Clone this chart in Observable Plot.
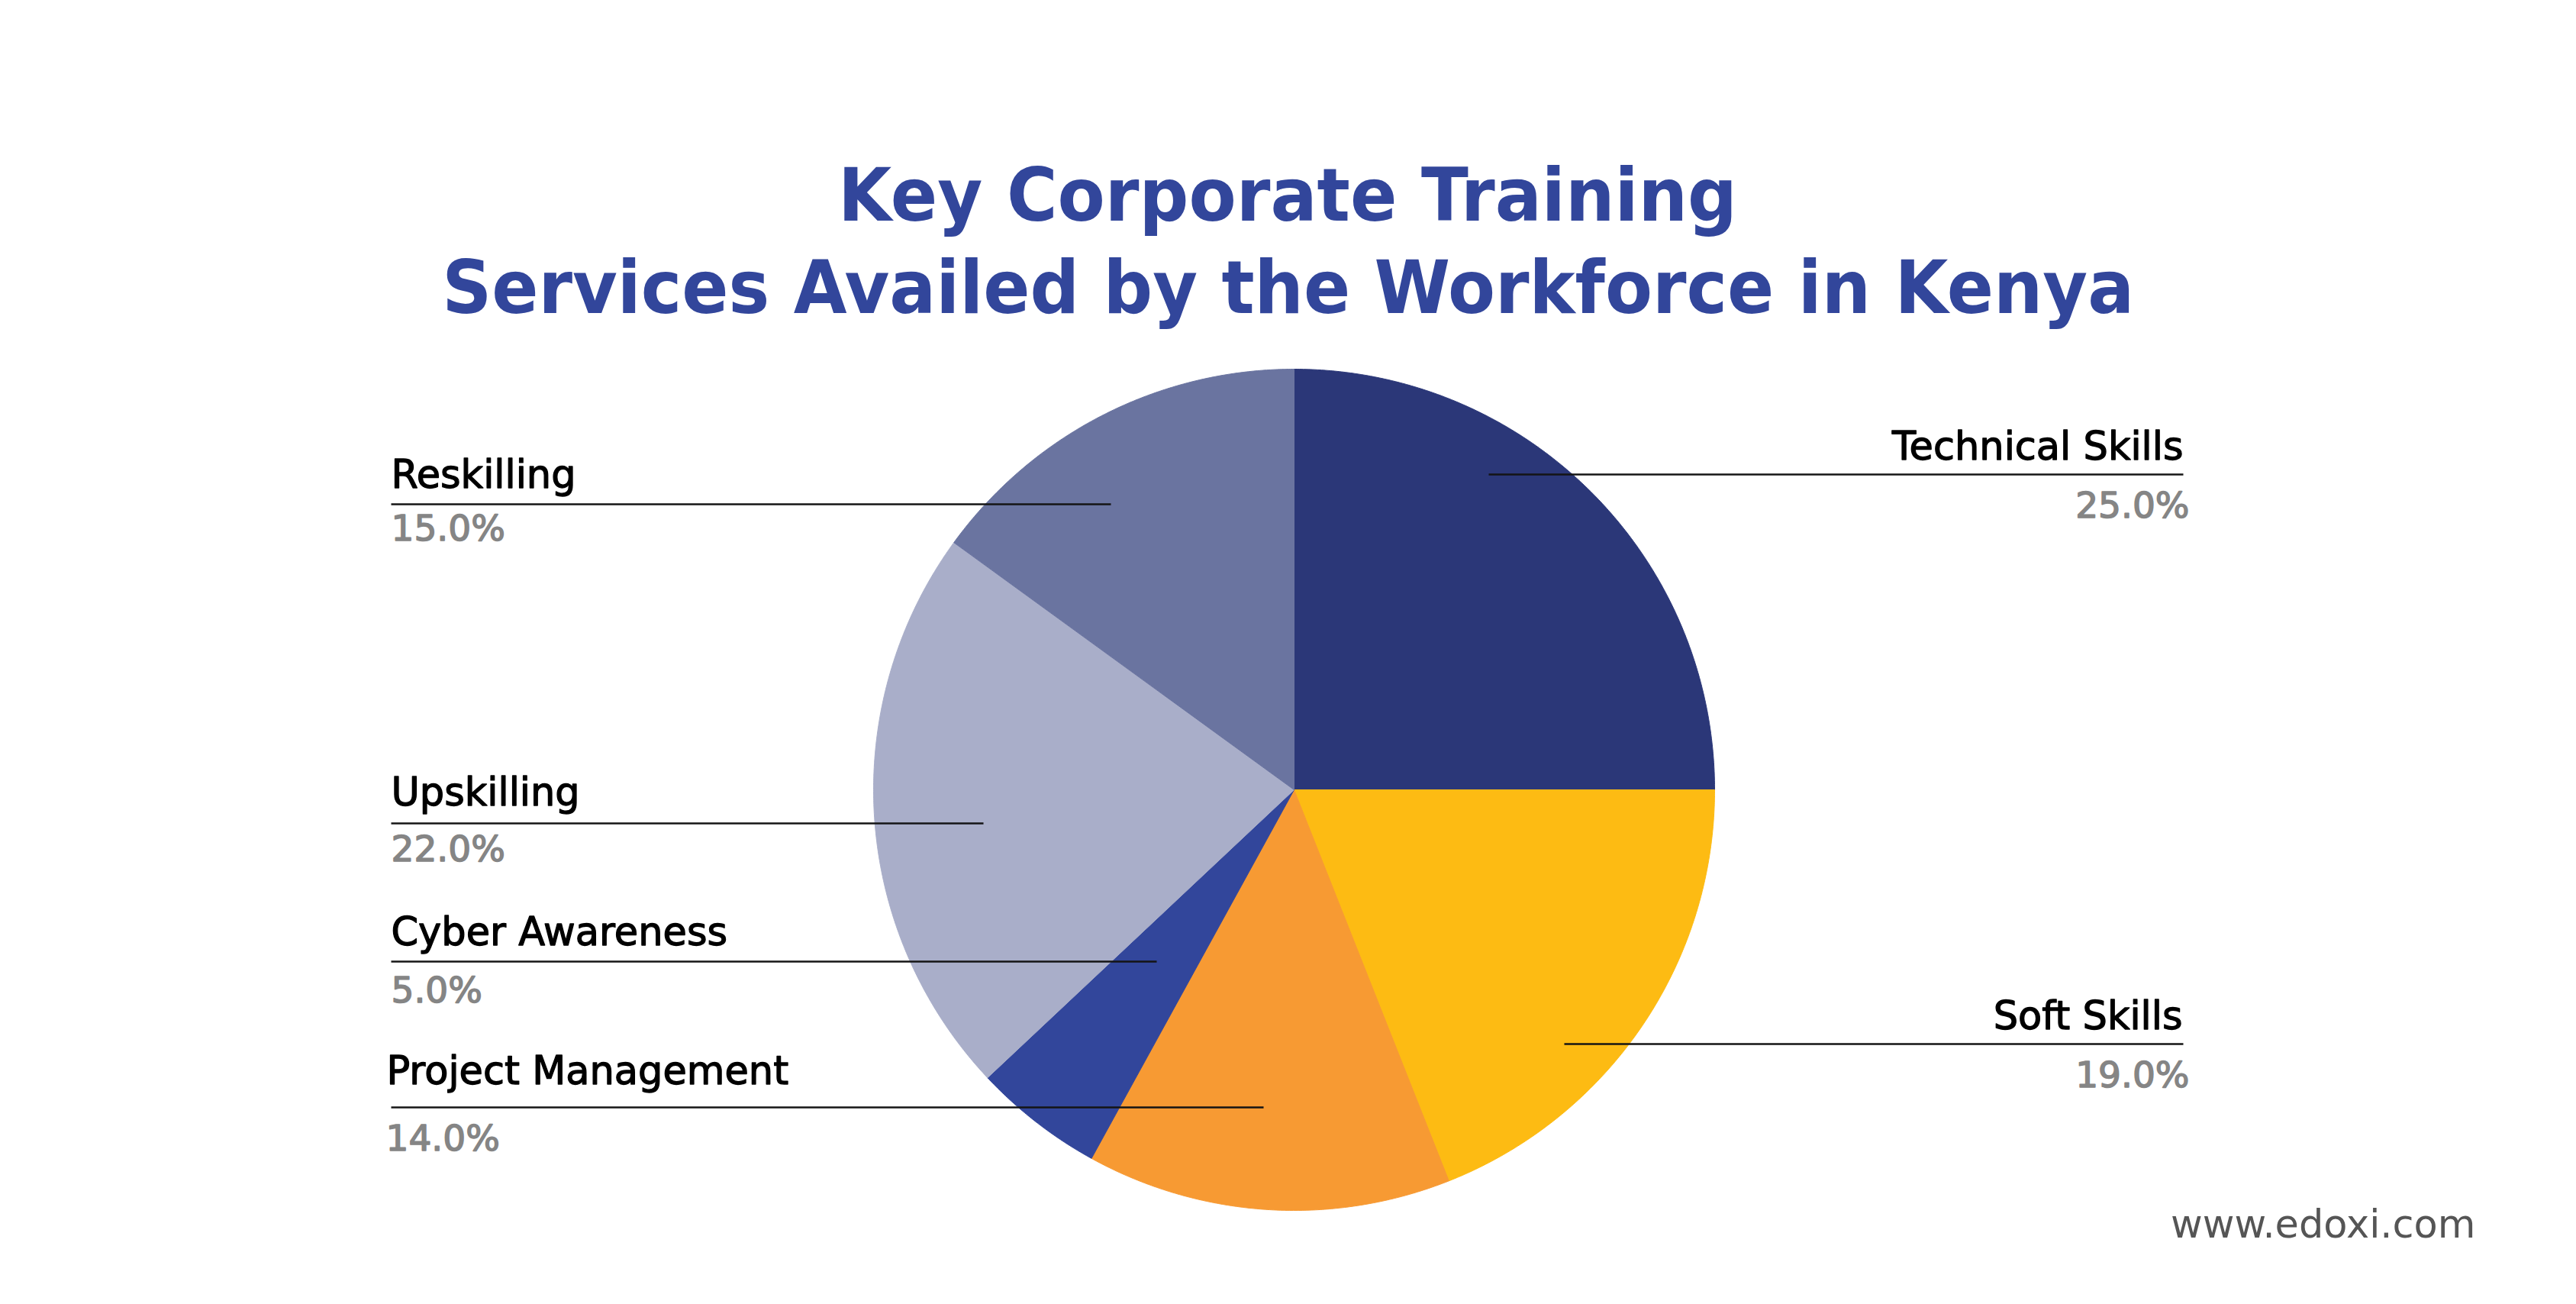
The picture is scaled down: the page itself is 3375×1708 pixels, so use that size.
<!DOCTYPE html>
<html>
<head>
<meta charset="utf-8">
<script src="https://cdn.jsdelivr.net/npm/d3@7"></script>
<script src="https://cdn.jsdelivr.net/npm/@observablehq/plot@0.6"></script>
<style>
  html, body { margin: 0; padding: 0; background: #fff; }
  #wrap { width: 3375px; height: 1708px; position: relative; overflow: hidden; background: #fff; }
  #title { position: relative; width: 3375px; height: 460px; }
  .tl { position: absolute; left: 0; width: 3375px; text-align: center; font-family: "DejaVu Sans", sans-serif;
        font-weight: bold; font-size: 97px; line-height: 1.164; color: #32469B; white-space: nowrap; }
  .tl span { display: inline-block; transform-origin: center center; }
  #chart svg { display: block; }
</style>
</head>
<body>
<div id="wrap">
  <div id="title"></div>
  <div id="chart"></div>
</div>
<script>
// ---------------- data ----------------
const categories = ["Technical Skills", "Soft Skills", "Project Management", "Cyber Awareness", "Upskilling", "Reskilling"];
const shares = [25.0, 19.0, 14.0, 5.0, 22.0, 15.0];
const sliceColors = ["#2B3778", "#FDBB13", "#F79A33", "#32469B", "#A9AEC9", "#6A74A0"];
const titleLines = ["Key Corporate Training", "Services Availed by the Workforce in Kenya"];
const watermark = "www.edoxi.com";

// ---------------- layout (reference pixel frame) ----------------
const W = 3375, TOP = 460, H = 1708 - TOP;
const CX = 1695, CY = 1034, R = 551;
const labelLayout = {
  "Technical Skills":   {side: "right", textX: 2860, nameY: 601, lineY: 621, pctY: 677, lineFrom: 1950, lineTo: 2860, pctX: 2868},
  "Soft Skills":        {side: "right", textX: 2859, nameY: 1347, lineY: 1367, pctY: 1423, lineFrom: 2049, lineTo: 2860, pctX: 2868},
  "Project Management": {side: "left",  textX: 506, nameY: 1419, lineY: 1450, pctY: 1506, lineFrom: 512, lineTo: 1655, pctX: 505},
  "Cyber Awareness":    {side: "left",  textX: 512, nameY: 1237, lineY: 1259, pctY: 1312, lineFrom: 512, lineTo: 1515, pctX: 512},
  "Upskilling":         {side: "left",  textX: 512, nameY: 1054, lineY: 1078, pctY: 1127, lineFrom: 512, lineTo: 1288, pctX: 512},
  "Reskilling":         {side: "left",  textX: 512, nameY: 638, lineY: 660, pctY: 707, lineFrom: 512, lineTo: 1455, pctX: 512}
};
const ux = px => (px - CX) / R;
const uy = py => (py - CY) / R;

// ---------------- title ----------------
const titleTargets = [{width: 1178, baseline: 290}, {width: 2217, baseline: 411}];
const titleEl = document.getElementById("title");
titleLines.forEach((t, i) => {
  const div = document.createElement("div");
  div.className = "tl";
  const fs = 97;
  div.style.top = (titleTargets[i].baseline - 0.928 * fs) + "px";
  const span = document.createElement("span");
  span.textContent = t;
  div.appendChild(span);
  titleEl.appendChild(div);
  const w = span.getBoundingClientRect().width;
  span.style.transform = `scaleX(${titleTargets[i].width / w})`;
});

// ---------------- pie geometry ----------------
const rows = categories.map((c, i) => ({name: c, share: shares[i], color: sliceColors[i]}));
const arcs = d3.pie().sort(null).value(d => d.share)(rows);
const slices = arcs.map(a => {
  const pts = [{x: 0, y: 0}];
  const n = Math.max(2, Math.ceil((a.endAngle - a.startAngle) / (Math.PI / 720)));
  for (let k = 0; k <= n; k++) {
    const t = a.startAngle + (a.endAngle - a.startAngle) * k / n;
    pts.push({x: Math.sin(t), y: -Math.cos(t)});
  }
  pts.push({x: 0, y: 0});
  return {name: a.data.name, color: a.data.color, pts};
});

const labelRows = rows.map(r => {
  const L = labelLayout[r.name];
  return {
    name: r.name, pct: r.share.toFixed(1) + "%", side: L.side,
    tx: ux(L.textX), ny: uy(L.nameY), py: uy(L.pctY), px: ux(L.pctX),
    x1: ux(L.lineFrom), x2: ux(L.lineTo), y: uy(L.lineY)
  };
});
const leftRows = labelRows.filter(d => d.side === "left");
const rightRows = labelRows.filter(d => d.side === "right");

const font = "DejaVu Sans";
const nameStyle = {fontFamily: font, fontSize: 51, fill: "#000", stroke: "#000", strokeWidth: 1.3, paintOrder: "stroke", lineAnchor: "bottom"};
const pctStyle = {fontFamily: font, fontSize: 47, fill: "#858585", stroke: "#858585", strokeWidth: 1.5, paintOrder: "stroke", lineAnchor: "bottom"};

const chart = Plot.plot({
  width: W, height: H, margin: 0,
  x: {domain: [ux(0), ux(W)], range: [0, W], axis: null},
  y: {domain: [uy(TOP), uy(TOP + H)], range: [0, H], axis: null},
  style: {background: "#fff", overflow: "visible"},
  marks: [
    ...slices.map(s => Plot.line(s.pts, {x: "x", y: "y", fill: s.color, stroke: s.color, strokeWidth: 1, curve: "linear"})),
    Plot.link(labelRows, {x1: "x1", x2: "x2", y1: "y", y2: "y", stroke: "#151515", strokeWidth: 2.4}),
    Plot.text(leftRows, {x: "tx", y: "ny", text: "name", textAnchor: "start", ...nameStyle}),
    Plot.text(rightRows, {x: "tx", y: "ny", text: "name", textAnchor: "end", ...nameStyle}),
    Plot.text(leftRows, {x: "px", y: "py", text: "pct", textAnchor: "start", ...pctStyle}),
    Plot.text(rightRows, {x: "px", y: "py", text: "pct", textAnchor: "end", ...pctStyle}),
    Plot.text([watermark], {text: d => d, frameAnchor: "bottom-right", dx: -132, dy: -88, lineAnchor: "bottom",
      textAnchor: "end", fontFamily: font, fontSize: 51, fill: "#555555"})
  ]
});
document.getElementById("chart").appendChild(chart);
</script>
</body>
</html>
